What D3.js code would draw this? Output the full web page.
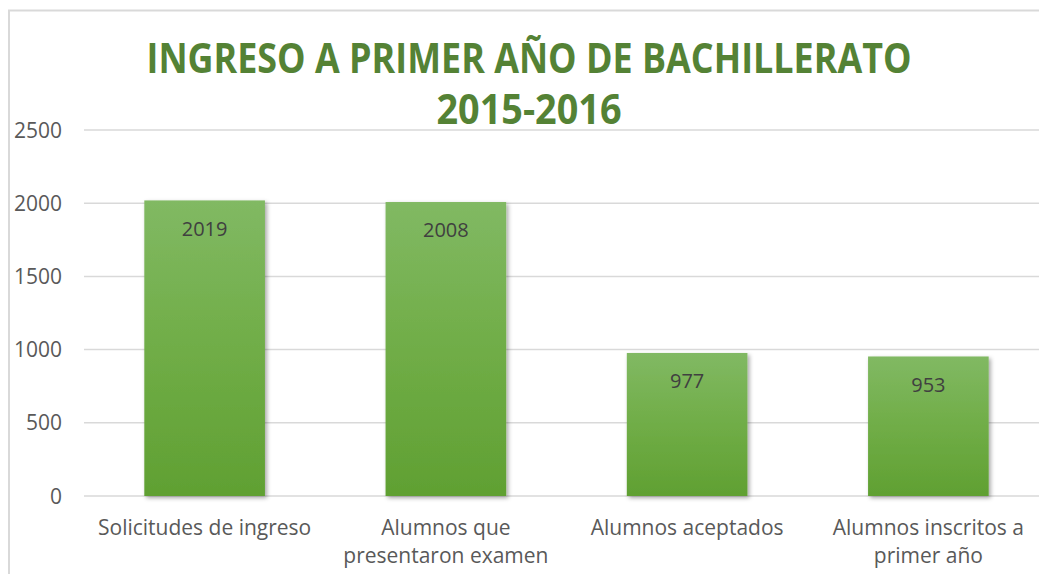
<!DOCTYPE html>
<html><head><meta charset="utf-8">
<script src="https://cdn.jsdelivr.net/npm/d3@7"></script>
<style>
body{margin:0;background:#fff;}
svg{display:block;}
text{font-family:"Open Sans",sans-serif;}
</style></head>
<body>
<svg id="chart" width="1039" height="574"></svg>
<script>
const categories = [["Solicitudes de ingreso"], ["Alumnos que","presentaron examen"], ["Alumnos aceptados"], ["Alumnos inscritos a","primer año"]];
const values = [2019, 2008, 977, 953];
const yTicks = [0, 500, 1000, 1500, 2000, 2500];
const titleLines = ["INGRESO A PRIMER AÑO DE BACHILLERATO", "2015-2016"];

const svg = d3.select("#chart");
const defs = svg.append("defs");
const grad = defs.append("linearGradient").attr("id","g").attr("x1",0).attr("y1",0).attr("x2",0).attr("y2",1);
grad.append("stop").attr("offset","0%").attr("stop-color","#81b963");
grad.append("stop").attr("offset","50%").attr("stop-color","#70ad47");
grad.append("stop").attr("offset","100%").attr("stop-color","#60a032");
const f = defs.append("filter").attr("id","sh").attr("x","-10%").attr("y","-10%").attr("width","130%").attr("height","130%");
f.append("feDropShadow").attr("dx",2).attr("dy",2).attr("stdDeviation",2.2).attr("flood-color","#000").attr("flood-opacity",0.35);

// chart border
svg.append("path").attr("d","M9,574 V10.5 H1039").attr("fill","none").attr("stroke","#d9d9d9").attr("stroke-width",2);

const x = d3.scaleBand().domain(d3.range(categories.length)).range([84, 1049]).paddingInner(0.5).paddingOuter(0.25);
const y = d3.scaleLinear().domain([0, 2500]).range([496, 130]);

// gridlines
svg.append("g").selectAll("line").data(yTicks).join("line")
  .attr("x1",84).attr("x2",1039).attr("y1",d=>y(d)).attr("y2",d=>y(d))
  .attr("stroke","#d9d9d9").attr("stroke-width",1.5);

// y tick labels
svg.append("g").selectAll("text").data(yTicks).join("text")
  .attr("x",62).attr("y",d=>y(d)).attr("dy","0.36em").attr("text-anchor","end")
  .attr("font-size",21).attr("fill","#595959").text(d=>d);

// bars
svg.append("g").selectAll("rect").data(values).join("rect")
  .attr("x",(d,i)=>x(i)).attr("width",x.bandwidth())
  .attr("y",d=>y(d)).attr("height",d=>y(0)-y(d))
  .attr("fill","url(#g)").attr("filter","url(#sh)");

// data labels
svg.append("g").selectAll("text").data(values).join("text")
  .attr("x",(d,i)=>x(i)+x.bandwidth()/2).attr("y",d=>y(d)+28).attr("dy","0.36em")
  .attr("text-anchor","middle").attr("font-size",20).attr("fill","#404040").text(d=>d);

// category labels
const cg = svg.append("g").selectAll("text").data(categories).join("text")
  .attr("x",(d,i)=>x(i)+x.bandwidth()/2).attr("y",535)
  .attr("text-anchor","middle").attr("font-size",21).attr("fill","#595959");
cg.selectAll("tspan").data(d=>d).join("tspan")
  .attr("x",function(){return this.parentNode.getAttribute("x");})
  .attr("dy",(d,i)=>i?28:0).text(d=>d);

// title
svg.append("g").selectAll("text").data(titleLines).join("text")
  .attr("x",529).attr("y",(d,i)=>73+i*51).attr("text-anchor","middle")
  .attr("font-family","'Liberation Sans Narrow','Open Sans',sans-serif")
  .attr("font-weight","bold").attr("font-size",41).attr("fill","#548235")
  .attr("textLength",(d,i)=>i?185:765).attr("lengthAdjust","spacingAndGlyphs")
  .text(d=>d);
</script>
</body></html>
